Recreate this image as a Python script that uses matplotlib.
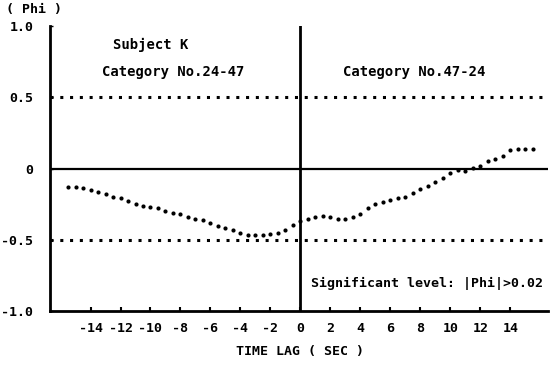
import numpy as np
import matplotlib.pyplot as plt

# time lag (sec) and Phi values
lag = np.arange(-15.5, 16.0, 0.5)
phi = [-0.13, -0.13, -0.14, -0.148, -0.162, -0.18, -0.197, -0.21, -0.225, -0.246,
       -0.26, -0.268, -0.28, -0.296, -0.31, -0.317, -0.338, -0.352, -0.36, -0.38,
       -0.40, -0.415, -0.43, -0.45, -0.465, -0.47, -0.465, -0.458, -0.45, -0.43,
       -0.394, -0.37, -0.352, -0.338, -0.33, -0.338, -0.352, -0.352, -0.338, -0.317,
       -0.275, -0.246, -0.232, -0.218, -0.21, -0.197, -0.169, -0.141, -0.12, -0.092,
       -0.063, -0.028, -0.007, -0.014, 0.007, 0.021, 0.05, 0.07, 0.085, 0.127,
       0.14, 0.14, 0.14]
xticks = list(range(-14, 16, 2))
yticks = [-1.0, -0.5, 0, 0.5, 1.0]
ylabels = ['-1.0', '-0.5', '0', '0.5', '1.0']
signif = 0.5

font = dict(family='DejaVu Sans Mono', fontweight='bold', fontsize=9.5)

fig = plt.figure(figsize=(5.5, 3.68), dpi=100)
ax = fig.add_axes([0.091, 0.155, 0.905, 0.774])

ax.plot(lag, phi, 'o', color='black', markersize=3, markeredgewidth=0)

# significance lines and zero line
for lvl in (signif, -signif):
    ax.axhline(lvl, color='black', linewidth=2.2, linestyle=(0, (1, 2.2)))
ax.axhline(0, color='black', linewidth=1.6)
ax.axvline(0, color='black', linewidth=2)

ax.set_xlim(-16.7, 16.5)
ax.set_ylim(-1.0, 1.0)
ax.set_xticks(xticks)
ax.set_xticklabels([str(t) for t in xticks], **font)
ax.set_yticks(yticks)
ax.set_yticklabels(ylabels, **font)
ax.tick_params(axis='x', direction='in', length=3, width=1.5, pad=8)
ax.tick_params(axis='y', direction='in', length=2, width=1, pad=12)

for s in ('top', 'right'):
    ax.spines[s].set_visible(False)
for s in ('left', 'bottom'):
    ax.spines[s].set_linewidth(2)

big = dict(font, fontsize=10)
ax.text(-10, 0.87, 'Subject K', ha='center', va='center', **big)
ax.text(-8.5, 0.68, 'Category No.24-47', ha='center', va='center', **big)
ax.text(7.6, 0.68, 'Category No.47-24', ha='center', va='center', **big)
ax.text(16.2, -0.81, 'Significant level: |Phi|>0.02', ha='right', va='center', **font)

fig.text(0.01, 0.975, '( Phi )', ha='left', va='center', **font)
fig.text(0.545, 0.045, 'TIME LAG ( SEC )', ha='center', va='center', **font)

fig.savefig('out.png', dpi=100)
